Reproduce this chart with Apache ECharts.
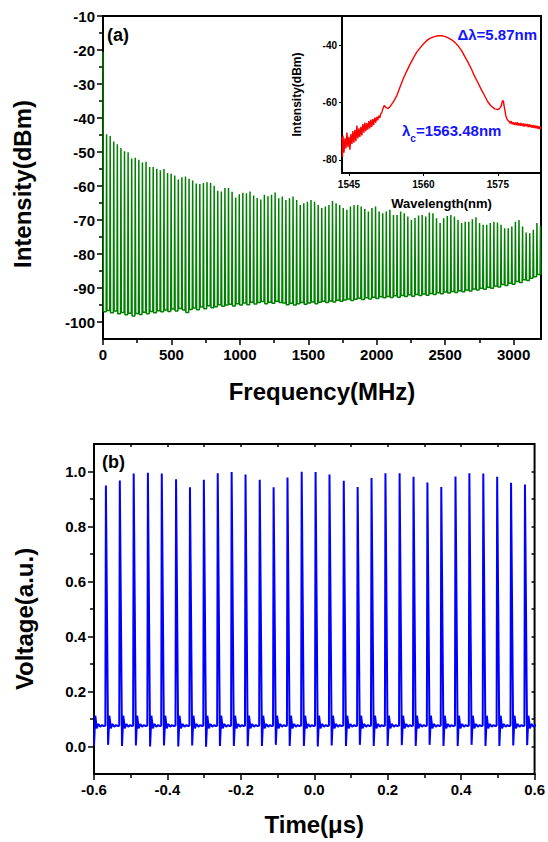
<!DOCTYPE html>
<html>
<head>
<meta charset="utf-8">
<script src="https://cdn.jsdelivr.net/npm/echarts@6/dist/echarts.min.js"></script>
<style>
  html, body { margin: 0; padding: 0; background: #fff; }
  #chart { width: 548px; height: 842px; }
</style>
</head>
<body>
<div id="chart"></div>
<script>
const FONT = '"Liberation Sans", Arial, Helvetica, sans-serif';

// ---------- (a) RF spectrum of the mode-locked pulse train ----------
const combSpacingMHz = 26.2;          // repetition rate: comb lines at n * spacing
const dcSpikeDbm = -20.5;              // level at 0 MHz
const combPeaksDbm = [
  -44.8, -45.3, -46.9, -47.7, -48.8, -49.8, -50.1, -51.9, -51.7, -52.3,
  -53.1, -52.9, -54.4, -54.4, -54.9, -55.4, -55.0, -56.2, -56.4, -56.9,
  -58.1, -57.4, -57.2, -57.9, -58.4, -59.3, -59.4, -59.1, -58.9, -59.1,
  -59.9, -61.4, -61.6, -60.6, -60.6, -61.7, -63.4, -62.4, -62.0, -62.1,
  -61.6, -62.8, -63.5, -64.0, -62.6, -63.0,
  -62.6, -61.9, -63.6, -63.1, -64.1, -63.6, -63.1, -64.1, -65.6, -65.1,
  -64.6, -64.1, -64.6, -65.6, -66.5, -66.0, -65.6, -64.4, -65.1, -65.6,
  -66.5, -67.0, -66.0, -65.6, -65.6, -66.0, -66.8, -67.5, -66.5, -66.0,
  -67.5, -68.0, -67.5, -67.0, -68.5, -68.5, -67.5, -68.0, -69.0, -70.0,
  -69.4, -68.7,
  -68.5, -69.0, -67.8, -68.0, -69.5, -70.9, -69.5, -68.8, -68.5, -69.0,
  -70.0, -70.9, -70.5, -70.5, -69.8, -69.2, -70.9, -71.4, -71.4, -70.9,
  -70.5, -70.7, -71.4, -72.4, -72.4, -71.9, -70.5, -70.0, -71.9, -73.7,
  -73.9, -72.9, -70.9, -71.8
];
// noise floor in each gap (gap k lies before comb line k+1)
const noiseFloorDbm = [
  -97.0, -96.6, -97.3, -96.8, -97.6, -97.2, -97.9, -97.4, -98.2, -97.5, -97.8, -97.1,
  -97.6, -96.9, -97.3, -96.7, -97.0, -96.5, -96.9,
  -96.2, -96.8, -96.0, -96.5, -97.2, -96.3, -95.9, -96.4,
  -95.6, -96.1, -95.2, -95.8, -95.5, -94.9, -95.4, -95.0,
  -94.8, -95.3, -94.6, -95.0, -94.4, -94.9, -94.2, -94.7, -94.3, -94.0, -94.6, -94.2, -94.5, -93.9, -94.3,
  -94.4, -94.9, -94.5, -95.0, -94.6, -94.3, -94.8, -94.4, -94.1, -94.6, -94.2, -93.9, -94.3, -93.8, -94.1, -93.6, -93.9,
  -93.5, -93.2, -93.7, -93.3, -93.0, -93.4, -92.9, -93.2, -92.7, -93.1, -92.6, -92.9, -92.5, -92.8, -92.3, -92.7, -92.2, -92.5, -92.0, -92.4, -91.9,
  -92.2, -91.8, -92.1, -91.6, -91.9, -91.4, -91.7, -91.2, -91.5, -91.0, -91.3, -90.8, -91.1, -90.6, -90.9, -90.3, -90.6, -90.1, -90.4,
  -89.8, -90.1, -89.4, -89.7, -89.0, -89.3, -88.6, -88.9, -88.1, -88.4, -87.6, -87.8, -87.1, -86.7, -86.0
];
const freqTicks = [0, 500, 1000, 1500, 2000, 2500, 3000];
const freqMinorTicks = [250, 750, 1250, 1750, 2250, 2750];
const intensityTicks = [-100, -90, -80, -70, -60, -50, -40, -30, -20, -10];
const intensityMinorTicks = [-95, -85, -75, -65, -55, -45, -35, -25, -15];

// ---------- inset: optical spectrum ----------
const insetWavelength = [
  1543.6, 1543.7, 1543.8, 1544.0, 1544.2, 1544.4, 1544.6, 1544.8, 1545.0, 1545.2,
  1545.4, 1545.6, 1545.8, 1546.0, 1546.2, 1546.4, 1546.6, 1546.8, 1547.0, 1547.2,
  1547.4, 1547.6, 1547.8, 1548.0, 1548.2, 1548.4, 1548.6, 1548.8, 1549.0, 1549.2,
  1549.4, 1549.6, 1549.8, 1550.0, 1550.2, 1550.4, 1550.6, 1550.8, 1551.0, 1551.2,
  1551.4, 1551.6, 1551.8, 1552.1, 1552.5, 1552.9, 1553.4, 1554.0, 1554.6, 1555.2,
  1555.9, 1556.6, 1557.3, 1558.0, 1558.6, 1559.3, 1560.0, 1560.6, 1561.3, 1562.2,
  1563.0, 1563.7, 1564.3, 1565.0, 1565.7, 1566.4, 1567.0, 1567.7, 1568.3, 1569.0,
  1569.7, 1570.3, 1571.0, 1571.7, 1572.4, 1573.0, 1573.7, 1574.4, 1575.0, 1575.4,
  1575.7, 1575.9, 1576.1, 1576.3, 1576.6, 1576.9, 1577.3, 1577.5, 1577.7, 1577.9,
  1578.1, 1578.3, 1578.5, 1578.7, 1578.9, 1579.1, 1579.3, 1579.5, 1579.7, 1579.9,
  1580.1, 1580.3, 1580.5, 1580.7, 1580.9, 1581.1, 1581.3, 1581.5, 1581.7, 1581.9,
  1582.1, 1582.3, 1582.5, 1582.7, 1582.9, 1583.1, 1583.3, 1583.5, 1583.7
];
const insetPower = [
  -72.0, -79.0, -71.5, -77.5, -72.5, -76.0, -70.5, -75.5, -72.0, -76.5,
  -71.0, -74.5, -70.0, -74.0, -69.5, -73.5, -68.0, -72.5, -69.0, -72.0,
  -68.5, -71.5, -67.5, -70.5, -67.0, -70.0, -67.2, -69.5, -66.5, -69.0,
  -66.0, -68.5, -65.8, -67.8, -65.3, -67.0, -65.0, -66.2, -64.6, -65.4,
  -64.0, -63.6, -62.4, -61.0, -61.8, -62.1, -61.2, -59.6, -57.8, -55.0,
  -51.9, -49.2, -46.7, -44.4, -42.6, -41.0, -39.6, -38.5, -37.6, -37.0,
  -36.7, -36.7, -36.9, -37.4, -38.1, -39.1, -40.2, -41.9, -43.8, -46.0,
  -48.4, -50.8, -53.1, -55.6, -57.8, -59.8, -61.3, -62.2, -62.5, -62.0,
  -61.1, -59.6, -59.3, -61.5, -64.5, -66.0, -66.6, -67.3, -66.5, -67.6,
  -66.9, -67.8, -67.0, -67.9, -66.9, -68.0, -67.2, -68.1, -67.1, -68.2,
  -67.3, -68.4, -67.4, -68.3, -67.5, -68.6, -67.6, -68.5, -67.8, -68.8,
  -67.8, -68.9, -68.0, -69.0, -68.1, -69.2, -68.3, -69.3, -68.6
];
const insetWlTicks = [1545, 1560, 1575];
const insetPowerTicks = [-80, -60, -40];

// ---------- (b) oscilloscope trace ----------
// first entry is the pulse just before the window (only its tail is visible)
const pulseTimes = [
  -0.6060,
  -0.5676, -0.5297, -0.4919, -0.4532, -0.4154, -0.3765, -0.3386, -0.3008, -0.2630, -0.2251,
  -0.1873, -0.1486, -0.1108, -0.0730, -0.0343, 0.0035, 0.0414, 0.0803, 0.1181, 0.1559,
  0.1938, 0.2324, 0.2703, 0.3081, 0.3459, 0.3846, 0.4224, 0.4603, 0.4981, 0.5359, 0.5738
];
const pulsePeaks = [
  null,
  0.949, 0.967, 0.993, 0.995, 0.993, 0.972, 0.943, 0.970, 0.994, 0.998,
  0.989, 0.970, 0.943, 0.978, 0.999, 0.998, 0.989, 0.966, 0.944, 0.976,
  0.994, 0.994, 0.981, 0.960, 0.944, 0.982, 0.994, 0.993, 0.981, 0.959, 0.953
];
const pulseUndershoot = [
  0.004,
  0.006, 0.002, 0.004, 0.000, 0.004, 0.000, 0.004, -0.001, 0.002, 0.002,
  0.001, 0.002, 0.006, 0.002, 0.002, 0.000, 0.004, 0.002, 0.006, 0.002,
  0.002, 0.005, 0.002, 0.006, 0.002, 0.002, 0.006, 0.002, 0.002, 0.004, 0.005
];
const baselineLevel = 0.076;
const undershootDelay = 0.006;                       // µs after the peak
const ringOffsets = [0.0095, 0.0135, 0.018, 0.023, 0.028, 0.033];
const ringLevels  = [0.112, 0.066, 0.082, 0.072, 0.078, 0.074];
const timeTicks = [-0.6, -0.4, -0.2, 0, 0.2, 0.4, 0.6];
const timeMinorTicks = [-0.5, -0.3, -0.1, 0.1, 0.3, 0.5];
const timeFrameTicks = [-0.5, -0.4, -0.3, -0.2, -0.1, 0, 0.1, 0.2, 0.3, 0.4, 0.5];
const voltageTicks = [0, 0.2, 0.4, 0.6, 0.8, 1.0];
const voltageMinorTicks = [0.1, 0.3, 0.5, 0.7, 0.9];
const voltageFrameTicks = [0, 0.1, 0.2, 0.3, 0.4, 0.5, 0.6, 0.7, 0.8, 0.9, 1.0];

// ---------- build series data ----------
const lineHalfWidth = 3; // MHz on each side of a comb line
const spectrum = [[0, dcSpikeDbm], [lineHalfWidth, noiseFloorDbm[0]]];
combPeaksDbm.forEach((p, i) => {
  const f = (i + 1) * combSpacingMHz;
  const after = noiseFloorDbm[Math.min(i + 1, noiseFloorDbm.length - 1)];
  spectrum.push([f - lineHalfWidth, noiseFloorDbm[i]]);
  spectrum.push([f, p]);
  spectrum.push([f + lineHalfWidth, after]);
});
spectrum.push([3200, noiseFloorDbm[noiseFloorDbm.length - 1]]);

const opticalSpectrum = insetWavelength.map((w, i) => [w, insetPower[i]]);

const pulseTrace = [];
pulseTimes.forEach((t, i) => {
  if (pulsePeaks[i] !== null) {
    pulseTrace.push([t - 0.0015, baselineLevel]);
    pulseTrace.push([t, pulsePeaks[i]]);
  }
  pulseTrace.push([t + undershootDelay, pulseUndershoot[i]]);
  ringOffsets.forEach((o, k) => pulseTrace.push([t + o, ringLevels[k]]));
});

// ---------- axis helpers ----------
const black = '#000';
const blue = '#1414ff';
function fmt1(v) { const s = Math.abs(v) < 1e-9 ? 0 : v; return s.toFixed(1); }
const plain = v => String(v);

function mainAxis(gridIndex, min, max, ticks, formatter, extra) {
  return Object.assign({
    type: 'value', gridIndex, min, max,
    axisLine: { show: true, onZero: false, lineStyle: { color: black, width: 2 } },
    axisTick: { show: true, customValues: ticks, length: 6, inside: false,
                lineStyle: { color: black, width: 1.5 } },
    axisLabel: { show: true, customValues: ticks, formatter, color: black,
                 fontFamily: FONT, fontWeight: 'bold', fontSize: 15 },
    splitLine: { show: false }
  }, extra || {});
}
function tickOnlyAxis(gridIndex, min, max, ticks, length, inside, position) {
  return {
    type: 'value', gridIndex, min, max, position,
    axisLine: { show: false, onZero: false },
    axisTick: { show: true, customValues: ticks, length, inside,
                lineStyle: { color: black, width: 1.5 } },
    axisLabel: { show: false },
    splitLine: { show: false }
  };
}
const nameStyle = (size, pad) => ({
  fontFamily: FONT, fontWeight: 'bold', fontSize: size, color: black, padding: pad || 0
});

// widths for laying out the subscripted centre-wavelength label
const measureCtx = document.createElement('canvas').getContext('2d');
function textWidth(str, size) {
  measureCtx.font = 'bold ' + size + 'px ' + FONT;
  return measureCtx.measureText(str).width;
}
const lcX = 402;
const lambdaW = textWidth('λ', 15);
const subW = textWidth('c', 10);

const chart = echarts.init(document.getElementById('chart'), null, { renderer: 'svg' });

chart.setOption({
  animation: false,
  backgroundColor: '#fff',
  grid: [
    { left: 103, top: 16, width: 438, height: 323, show: true,
      backgroundColor: 'transparent', borderColor: black, borderWidth: 2 },
    { left: 94, top: 444, width: 444, height: 330, show: true,
      backgroundColor: 'transparent', borderColor: black, borderWidth: 2 },
    { left: 342, top: 16, width: 199, height: 157, show: true, z: 5,
      backgroundColor: '#fff', borderColor: black, borderWidth: 2 }
  ],
  xAxis: [
    mainAxis(0, 0, 3200, freqTicks, plain, {
      position: 'bottom', name: 'Frequency(MHz)', nameLocation: 'middle', nameGap: 40,
      nameTextStyle: nameStyle(24)
    }),
    tickOnlyAxis(0, 0, 3200, freqMinorTicks, 4, false, 'bottom'),
    mainAxis(1, -0.6, 0.6, timeTicks, fmt1, {
      position: 'bottom', name: 'Time(μs)', nameLocation: 'middle', nameGap: 38,
      nameTextStyle: nameStyle(24)
    }),
    tickOnlyAxis(1, -0.6, 0.6, timeMinorTicks, 4, false, 'bottom'),
    tickOnlyAxis(1, -0.6, 0.6, timeFrameTicks, 3, true, 'top'),
    {
      type: 'value', gridIndex: 2, min: 1543.6, max: 1583.7, position: 'bottom', z: 6,
      axisLine: { show: true, onZero: false, lineStyle: { color: black, width: 2 } },
      axisTick: { show: true, customValues: insetWlTicks, length: 3, lineStyle: { color: black } },
      axisLabel: { customValues: insetWlTicks, formatter: plain, margin: 6, color: black,
                   fontFamily: FONT, fontWeight: 'bold', fontSize: 10 },
      splitLine: { show: false },
      name: 'Wavelength(nm)', nameLocation: 'middle', nameGap: 23.5,
      nameTextStyle: nameStyle(13)
    }
  ],
  yAxis: [
    mainAxis(0, -105, -10, intensityTicks, plain, {
      position: 'left', name: 'Intensity(dBm)', nameLocation: 'middle', nameGap: 69,
      nameTextStyle: nameStyle(24, [0, 13, 0, 0])
    }),
    tickOnlyAxis(0, -105, -10, intensityMinorTicks, 4, false, 'left'),
    mainAxis(1, -0.1, 1.1, voltageTicks, fmt1, {
      position: 'left', name: 'Voltage(a.u.)', nameLocation: 'middle', nameGap: 58,
      nameTextStyle: nameStyle(24, [0, 20, 0, 0])
    }),
    tickOnlyAxis(1, -0.1, 1.1, voltageMinorTicks, 4, false, 'left'),
    tickOnlyAxis(1, -0.1, 1.1, voltageFrameTicks, 3, true, 'right'),
    {
      type: 'value', gridIndex: 2, min: -84.6, max: -29.8, position: 'left', z: 6,
      axisLine: { show: true, onZero: false, lineStyle: { color: black, width: 2 } },
      axisTick: { show: true, customValues: insetPowerTicks, length: 3, lineStyle: { color: black } },
      axisLabel: { customValues: insetPowerTicks, formatter: plain, margin: 5, color: black,
                   fontFamily: FONT, fontWeight: 'bold', fontSize: 10 },
      splitLine: { show: false },
      name: 'Intensity(dBm)', nameLocation: 'middle', nameGap: 39,
      nameTextStyle: nameStyle(12)
    }
  ],
  series: [
    {
      name: 'RF spectrum', type: 'line', xAxisIndex: 0, yAxisIndex: 0,
      data: spectrum, showSymbol: false, clip: true, z: 2,
      lineStyle: { color: '#008000', width: 1.5 }
    },
    {
      name: 'Pulse train', type: 'line', xAxisIndex: 2, yAxisIndex: 2,
      data: pulseTrace, showSymbol: false, clip: true, z: 2,
      lineStyle: { color: '#0000ff', width: 2 }
    },
    {
      name: 'Optical spectrum', type: 'line', xAxisIndex: 5, yAxisIndex: 5,
      data: opticalSpectrum, showSymbol: false, clip: true, z: 7,
      lineStyle: { color: '#ff0000', width: 1.4 }
    }
  ],
  graphic: [
    { type: 'text', x: 107, y: 35, z: 100,
      style: { text: '(a)', fontFamily: FONT, fontWeight: 'bold', fontSize: 18,
               fill: black, verticalAlign: 'middle' } },
    { type: 'text', x: 102, y: 462, z: 100,
      style: { text: '(b)', fontFamily: FONT, fontWeight: 'bold', fontSize: 18,
               fill: black, verticalAlign: 'middle' } },
    { type: 'text', x: 537, y: 34, z: 100,
      style: { text: 'Δλ=5.87nm', fontFamily: FONT, fontWeight: 'bold', fontSize: 15,
               fill: blue, align: 'right', verticalAlign: 'middle' } },
    { type: 'text', x: lcX, y: 130, z: 100,
      style: { text: 'λ', fontFamily: FONT, fontWeight: 'bold', fontSize: 15,
               fill: blue, verticalAlign: 'middle' } },
    { type: 'text', x: lcX + lambdaW, y: 138, z: 100,
      style: { text: 'c', fontFamily: FONT, fontWeight: 'bold', fontSize: 10,
               fill: blue, verticalAlign: 'middle' } },
    { type: 'text', x: lcX + lambdaW + subW, y: 130, z: 100,
      style: { text: '=1563.48nm', fontFamily: FONT, fontWeight: 'bold', fontSize: 15,
               fill: blue, verticalAlign: 'middle' } }
  ]
});
</script>
</body>
</html>
